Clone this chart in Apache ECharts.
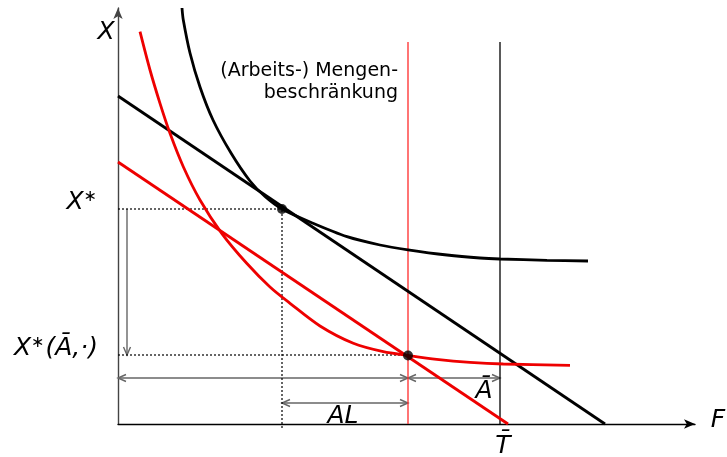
<!DOCTYPE html>
<html>
<head>
<meta charset="utf-8">
<style>html,body{margin:0;padding:0;background:#fff;}#c{width:727px;height:457px;}</style>
<script src="https://cdn.jsdelivr.net/npm/echarts/dist/echarts.min.js"></script>
</head>
<body>
<div id="c"></div>
<script>
// ---- data (axis units: F horizontally, X vertically) ----
const blackIndifference = [[64,416],[65.3,404],[72,371],[82,337],[95,304],[113,271],[132,243],[147,227.5],[164,215],[195,200.7],[229,187.3],[262,179],[290,174.2],[329,169],[362,166],[382,165],[429,163.7],[470,163]];
const redIndifference = [[22,392.3],[32,354],[42,320.7],[52,290.7],[65.3,257.3],[82,224],[103.7,190.7],[128.7,160.7],[152,137],[172,120.7],[202,98],[235.3,80.7],[265.3,72.3],[290.3,68.5],[318.7,64.7],[352,61.7],[385.3,60],[452,58.7]];
const blackBudget = [[0,328],[487,0]];
const redBudget = [[0,262],[390,0]];
const optimum = [164,215];
const constrainedOptimum = [290,68.5];
const limitAL = 290;      // Mengenbeschränkung
const timeT = 382;        // T-bar
const verticalTop = 382;
const arrowLevelA = 46;
const arrowLevelAL = 21;
const arrowX = 9;
const axisMax = {x: 577, y: 416};

const tickLabelsY = [
  {value: optimum[1], rich: '{i|X}{s|∗}'},
  {value: 69, rich: '{i|X}{s|∗}{n|(}{i|Ā}{n|,·)}'}
];
const axisNames = {x: 'F', y: 'X'};
const tickLabelsX = [{value: timeT, text: 'T\u0304'}];
const intervalLabels = [{x: (optimum[0]+limitAL)/2, y: arrowLevelAL, text: 'AL'}, {x: 368, y: arrowLevelA, text: 'Ā'}];
const noteLines = ['(Arbeits-) Mengen-', 'beschränkung'];

// arrows: [x1,y1,x2,y2,headAtStart,headAtEnd]
const arrows = [
  [arrowX, optimum[1], arrowX, 69, 0, 1],
  [0, arrowLevelA, limitAL, arrowLevelA, 1, 1],
  [limitAL, arrowLevelA, timeT, arrowLevelA, 1, 1],
  [optimum[0], arrowLevelAL, limitAL, arrowLevelAL, 1, 1]
];

const chart = echarts.init(document.getElementById('c'), null, {renderer: 'canvas'});
const lineS = (data, color, width, extra) => Object.assign({
  type: 'line', data: data, showSymbol: false, symbol: 'none', silent: true,
  lineStyle: {color: color, width: width}, animation: false
}, extra || {});

function headPts(tip, from, len, hw) {
  const dx = tip[0]-from[0], dy = tip[1]-from[1];
  const L = Math.sqrt(dx*dx+dy*dy) || 1;
  const ux = dx/L, uy = dy/L;
  const bx = tip[0]-ux*len, by = tip[1]-uy*len;
  return [[bx - uy*hw, by + ux*hw], tip, [bx + uy*hw, by - ux*hw]];
}

chart.setOption({
  animation: false,
  grid: {left: 118, top: 8, width: 577, height: 416},
  xAxis: {type: 'value', min: 0, max: axisMax.x, splitLine: {show: false},
    axisTick: {show: false}, axisLabel: {show: false},
    axisLine: {onZero: false, lineStyle: {color: '#000', width: 1.4}, symbol: ['none','arrow'], symbolSize: [7, 11]}},
  yAxis: {type: 'value', min: 0, max: axisMax.y, splitLine: {show: false},
    axisTick: {show: false}, axisLabel: {show: false},
    axisLine: {onZero: false, lineStyle: {color: '#444', width: 1.4}, symbol: ['none','arrow'], symbolSize: [7, 11]}},
  series: [
    lineS([[optimum[0],-4],[optimum[0],optimum[1]]], '#000', 1, {clip: false, lineStyle: {color:'#000', width:1.2, type:[2,2]}}),
    lineS([[0,optimum[1]],[optimum[0],optimum[1]]], '#000', 1, {lineStyle: {color:'#000', width:1.2, type:[2,2]}}),
    lineS([[0,69],[limitAL,69]], '#000', 1, {lineStyle: {color:'#000', width:1.2, type:[2,2]}}),
    lineS([[limitAL,0],[limitAL,verticalTop]], '#ff2a2a', 1.3),
    lineS([[timeT,0],[timeT,verticalTop]], '#000', 1.3),
    lineS(blackBudget, '#000', 2.8, {clip: false}),
    lineS(redBudget, '#ee0000', 2.8, {clip: false}),
    lineS(blackIndifference, '#000', 2.8, {smooth: 0.3, clip: false}),
    lineS(redIndifference, '#ee0000', 2.8, {smooth: 0.3, clip: false}),
    {type: 'scatter', data: [optimum, constrainedOptimum], symbolSize: 10, itemStyle: {color: '#000'}, z: 5, silent: true},
    {type: 'custom', data: arrows, silent: true, z: 3,
      renderItem: function (params, api) {
        const p1 = api.coord([api.value(0), api.value(1)]);
        const p2 = api.coord([api.value(2), api.value(3)]);
        const st = {stroke: '#666', lineWidth: 1.4, fill: null};
        const ch = [{type: 'line', shape: {x1: p1[0], y1: p1[1], x2: p2[0], y2: p2[1]}, style: st}];
        if (api.value(4)) ch.push({type: 'polyline', shape: {points: headPts(p1, p2, 8, 3.5)}, style: st});
        if (api.value(5)) ch.push({type: 'polyline', shape: {points: headPts(p2, p1, 8, 3.5)}, style: st});
        return {type: 'group', children: ch};
      }}
  ]
});

// texts placed via the axes' scales
const toPx = (x, y) => chart.convertToPixel({gridIndex: 0}, [x, y]);
const font = 'DejaVu Sans, sans-serif';
const rich = {
  i: {fontFamily: font, fontStyle: 'italic', fontSize: 25, fill: '#000'},
  s: {fontFamily: font, fontSize: 16, fill: '#000', verticalAlign: 'top', padding: [0,1,10,0]},
  n: {fontFamily: font, fontStyle: 'italic', fontSize: 25, fill: '#000'}
};
const graphics = [];
tickLabelsY.forEach(t => {
  const p = toPx(0, t.value);
  graphics.push({type: 'text', x: p[0] - 20, y: p[1] - 7, style: {text: t.rich, rich: rich, align: 'right', verticalAlign: 'middle'}});
});
tickLabelsX.forEach(t => {
  const p = toPx(t.value, 0);
  graphics.push({type: 'text', x: p[0] + 3, y: p[1] + 22, style: {text: t.text, font: 'italic 25px ' + font, fill: '#000', align: 'center', verticalAlign: 'middle'}});
});
(function () {
  const py = toPx(0, axisMax.y);
  graphics.push({type: 'text', x: py[0] - 12, y: py[1] + 24, style: {text: axisNames.y, font: 'italic 25px ' + font, fill: '#000', align: 'center', verticalAlign: 'middle'}});
  const px = toPx(axisMax.x, 0);
  graphics.push({type: 'text', x: px[0] + 23, y: px[1] - 4, style: {text: axisNames.x, font: 'italic 25px ' + font, fill: '#000', align: 'center', verticalAlign: 'middle'}});
})();
intervalLabels.forEach(t => {
  const p = toPx(t.x, t.y);
  graphics.push({type: 'text', x: p[0] - 2, y: p[1] + 13, style: {text: t.text, font: 'italic 25px ' + font, fill: '#000', align: 'center', verticalAlign: 'middle'}});
});
(function () {
  const p = toPx(limitAL, verticalTop);
  noteLines.forEach((s, k) => {
    graphics.push({type: 'text', x: p[0] - 10, y: p[1] + 29 + k * 22, style: {text: s, font: '19px ' + font, fill: '#000', align: 'right', verticalAlign: 'middle'}});
  });
})();
chart.setOption({graphic: graphics});
</script>
</body>
</html>
